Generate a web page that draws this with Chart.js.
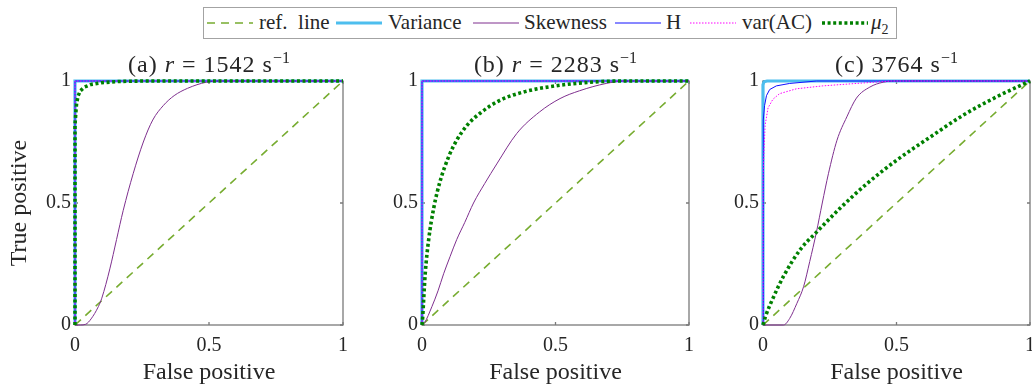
<!DOCTYPE html>
<html>
<head>
<meta charset="utf-8">
<script src="https://cdn.jsdelivr.net/npm/chart.js@4.4.1/dist/chart.umd.min.js"></script>
<style>
  body { margin: 0; background: #fff; }
  #fig { position: relative; width: 1032px; height: 386px; overflow: hidden; font-family: "Liberation Serif", serif; color: #262626; }
  #fig canvas { position: absolute; top: 40px; }
  .title { position: absolute; top: 49px; width: 300px; text-align: center; font-size: 24px; line-height: 30px; letter-spacing: 1px; white-space: nowrap; }
  .title sup { font-size: 16px; line-height: 0; letter-spacing: 0; }
  #legend { position: absolute; left: 203px; top: 7px; width: 694px; height: 32px; box-sizing: border-box; border: 1.5px solid #a3a3a3; background: #fff; }
  .lg-item { position: absolute; top: 0; height: 29px; display: flex; align-items: center; font-size: 21px; white-space: nowrap; }
  .lg-item svg { display: block; }
  .lg-item sub { font-size: 14px; line-height: 0; }
</style>
</head>
<body>
<div id="fig">
  <div id="legend"></div>
  <canvas id="rocA" width="350" height="346" style="left:0px"></canvas>
  <canvas id="rocB" width="350" height="346" style="left:347px"></canvas>
  <canvas id="rocC" width="344" height="346" style="left:688px"></canvas>
</div>
<script>
// shear rates of the three runs, s^-1
const panelLetters = ["(a)", "(b)", "(c)"];
const shearRates = [1542, 2283, 3764];

// diagonal reference and ideal step curve (false positive / true positive)
const refFpr = [0, 1];
const refTpr = [0, 1];
const stepFpr = [0, 0, 1];
const stepTpr = [0, 1, 1];

// (a) r = 1542
const skewFprA = [0, 0.02, 0.04, 0.06, 0.087, 0.1, 0.13, 0.155, 0.18, 0.217, 0.255, 0.29, 0.33, 0.37, 0.42, 0.49, 0.55, 1];
const skewTprA = [0, 0, 0.003, 0.025, 0.075, 0.11, 0.23, 0.35, 0.47, 0.62, 0.75, 0.84, 0.9, 0.94, 0.97, 0.995, 1, 1];
const mu2FprA = [0, 0, 0.003, 0.006, 0.012, 0.02, 0.035, 0.06, 0.1, 0.16, 0.25, 1];
const mu2TprA = [0, 0.82, 0.87, 0.91, 0.94, 0.96, 0.975, 0.986, 0.993, 0.998, 1, 1];

// (b) r = 2283
const skewFprB = [0, 0.01, 0.037, 0.06, 0.081, 0.105, 0.13, 0.16, 0.193, 0.235, 0.28, 0.355, 0.44, 0.517, 0.59, 0.69, 0.76, 1];
const skewTprB = [0, 0.01, 0.075, 0.14, 0.21, 0.28, 0.35, 0.42, 0.5, 0.58, 0.66, 0.785, 0.873, 0.928, 0.96, 0.99, 1, 1];
const mu2FprB = [0, 0.003, 0.006, 0.012, 0.025, 0.044, 0.068, 0.1, 0.13, 0.17, 0.22, 0.29, 0.38, 0.5, 0.63, 0.75, 1];
const mu2TprB = [0, 0.04, 0.1, 0.21, 0.35, 0.48, 0.59, 0.69, 0.757, 0.82, 0.87, 0.92, 0.955, 0.98, 0.995, 1, 1];

// (c) r = 3764
const varFprC = [0, 0, 0.004, 0.015, 1];
const varTprC = [0, 0.985, 0.997, 1, 1];
const skewFprC = [0, 0.077, 0.1, 0.127, 0.152, 0.175, 0.2, 0.222, 0.245, 0.277, 0.314, 0.35, 0.4, 0.45, 0.5, 1];
const skewTprC = [0, 0, 0.027, 0.089, 0.157, 0.26, 0.38, 0.5, 0.62, 0.757, 0.853, 0.93, 0.975, 0.995, 1, 1];
const hFprC = [0, 0, 0.002, 0.006, 0.013, 0.025, 0.05, 0.1, 0.2, 1];
const hTprC = [0, 0.8, 0.84, 0.9, 0.94, 0.965, 0.98, 0.99, 1, 1];
const acFprC = [0, 0, 0.004, 0.008, 0.019, 0.037, 0.062, 0.125, 0.224, 0.35, 0.48, 1];
const acTprC = [0, 0.6, 0.72, 0.82, 0.89, 0.925, 0.948, 0.968, 0.98, 0.99, 1, 1];
const mu2FprC = [0, 0.009, 0.04, 0.077, 0.14, 0.2, 0.29, 0.39, 0.5, 0.626, 0.75, 0.875, 1];
const mu2TprC = [0, 0.034, 0.116, 0.2, 0.31, 0.38, 0.48, 0.58, 0.675, 0.77, 0.86, 0.935, 1];

const axisTicks = [0, 0.5, 1];

// line styles in legend order
const seriesStyles = [
    { label: "ref. line", html: "ref.&nbsp; line", color: "#77AC30", width: 1.6, dash: [8, 6] },
    { label: "Variance", html: "Variance", color: "#4DBEEE", width: 3.2, dash: [] },
    { label: "Skewness", html: "Skewness", color: "#7E2F8E", width: 1, dash: [] },
    { label: "H", html: "H", color: "#1010ff", width: 1, dash: [] },
    { label: "var(AC)", html: "var(AC)", color: "#FF00FF", width: 1, dash: [1.5, 1.5] },
    { label: "μ2", html: "<i>μ</i><sub>2</sub>", color: "#008000", width: 3.6, dash: [3, 2.6] },
];

const panels = [
    {
        id: "rocA", yTitle: true, rightPad: 7,
        curves: [[refFpr, refTpr], [stepFpr, stepTpr], [skewFprA, skewTprA], [stepFpr, stepTpr], [stepFpr, stepTpr], [mu2FprA, mu2TprA]],
    },
    {
        id: "rocB", yTitle: false, rightPad: 8,
        curves: [[refFpr, refTpr], [stepFpr, stepTpr], [skewFprB, skewTprB], [stepFpr, stepTpr], [stepFpr, stepTpr], [mu2FprB, mu2TprB]],
    },
    {
        id: "rocC", yTitle: false, rightPad: 2,
        curves: [[refFpr, refTpr], [varFprC, varTprC], [skewFprC, skewTprC], [hFprC, hTprC], [acFprC, acTprC], [mu2FprC, mu2TprC]],
    },
];

const textColor = "#262626";
const serif = "'Liberation Serif', 'Times New Roman', serif";
const tickFont = { family: serif, size: 20 };
const labelFont = { family: serif, size: 24, lineHeight: 1 };

const toPoints = (xs, ys) => xs.map((x, i) => ({ x, y: ys[i] }));
// monotone smoothing only works when every x is distinct
const strictlyIncreasing = (xs) => xs.every((x, i) => i === 0 || x > xs[i - 1]);

// frame with inward ticks on all four sides
const axesBox = {
    id: "axesBox",
    beforeDatasetsDraw(chart) {
        const {
            ctx,
            chartArea: { left, right, top, bottom },
            scales: { x, y },
        } = chart;
        ctx.save();
        ctx.strokeStyle = "#7a7a7a";
        ctx.lineWidth = 1.3;
        ctx.strokeRect(left, top, right - left, bottom - top);
        ctx.beginPath();
        axisTicks.forEach((v) => {
            const px = x.getPixelForValue(v);
            const py = y.getPixelForValue(v);
            ctx.moveTo(px, bottom);
            ctx.lineTo(px, bottom - 3);
            ctx.moveTo(px, top);
            ctx.lineTo(px, top + 3);
            ctx.moveTo(left, py);
            ctx.lineTo(left + 3, py);
            ctx.moveTo(right, py);
            ctx.lineTo(right - 3, py);
        });
        ctx.stroke();
        ctx.restore();
    },
};

function drawPanels() {
    panels.forEach((panel, p) => {
        const datasets = panel.curves.map(([xs, ys], i) => {
            const s = seriesStyles[i];
            const smooth = xs.length > 3 && strictlyIncreasing(xs);
            return {
                label: s.label,
                data: toPoints(xs, ys),
                showLine: true,
                borderColor: s.color,
                backgroundColor: s.color,
                borderWidth: s.width,
                borderDash: s.dash,
                pointRadius: 0,
                tension: 0,
                cubicInterpolationMode: smooth ? "monotone" : "default",
                clip: 6,
                order: seriesStyles.length - i,
            };
        });

        new Chart(document.getElementById(panel.id), {
            type: "scatter",
            data: { datasets },
            options: {
                responsive: false,
                animation: false,
                events: [],
                layout: { padding: { left: 0, right: panel.rightPad, top: 41, bottom: 0 } },
                plugins: {
                    legend: { display: false },
                    tooltip: { enabled: false },
                },
                scales: {
                    x: {
                        type: "linear",
                        min: 0,
                        max: 1,
                        grid: { display: false, drawTicks: false },
                        border: { display: false },
                        ticks: {
                            stepSize: 0.5, padding: 9, font: tickFont, color: textColor,
                            maxRotation: 0, autoSkip: false, callback: (v) => `${v}`,
                        },
                        title: { display: true, text: "False positive", font: labelFont, color: textColor, padding: { top: 0, bottom: 1 } },
                        afterFit: (scale) => {
                            scale.height = 61;
                            scale.paddingLeft = 0;
                            scale.paddingRight = 0;
                        },
                    },
                    y: {
                        type: "linear",
                        min: 0,
                        max: 1,
                        grid: { display: false, drawTicks: false },
                        border: { display: false },
                        ticks: {
                            stepSize: 0.5, padding: 4, font: tickFont, color: textColor,
                            autoSkip: false, callback: (v) => `${v}`,
                        },
                        title: { display: panel.yTitle, text: "True positive", font: labelFont, color: textColor, padding: { top: 8, bottom: 0 } },
                        afterFit: (scale) => {
                            scale.width = 75;
                            scale.paddingTop = 0;
                            scale.paddingBottom = 0;
                        },
                    },
                },
            },
            plugins: [axesBox],
        });

        // panel title centred over the plot area
        const chartLeft = [75, 422, 763][p];
        const chartRight = [343, 689, 1030][p];
        const title = document.createElement("div");
        title.className = "title";
        title.style.left = (chartLeft + chartRight) / 2 - 150 + "px";
        const rate = p < 2 ? `<i>r</i> = ${shearRates[p]}` : `${shearRates[p]}`;
        title.innerHTML = `${panelLetters[p]} ${rate} s<sup>−1</sup>`;
        document.getElementById("fig").appendChild(title);
    });
}

// legend row across the top
const legendSlots = [[3, 55], [132, 184], [269, 320], [411, 462], [486, 538], [618, 667]];
const legend = document.getElementById("legend");
seriesStyles.forEach((s, i) => {
    const [sampleLeft, textLeft] = legendSlots[i];
    const sample = document.createElement("div");
    sample.className = "lg-item";
    sample.style.left = sampleLeft + "px";
    sample.innerHTML = `<svg width="46" height="10"><line x1="0" y1="5" x2="46" y2="5" stroke="${s.color}" stroke-width="${s.width}" stroke-dasharray="${s.dash.join(" ") || "none"}"/></svg>`;
    legend.appendChild(sample);
    const text = document.createElement("div");
    text.className = "lg-item";
    text.style.left = textLeft + "px";
    text.innerHTML = `<span>${s.html}</span>`;
    legend.appendChild(text);
});

document.fonts.load("20px 'Liberation Serif'").then(drawPanels, drawPanels);
</script>
</body>
</html>
